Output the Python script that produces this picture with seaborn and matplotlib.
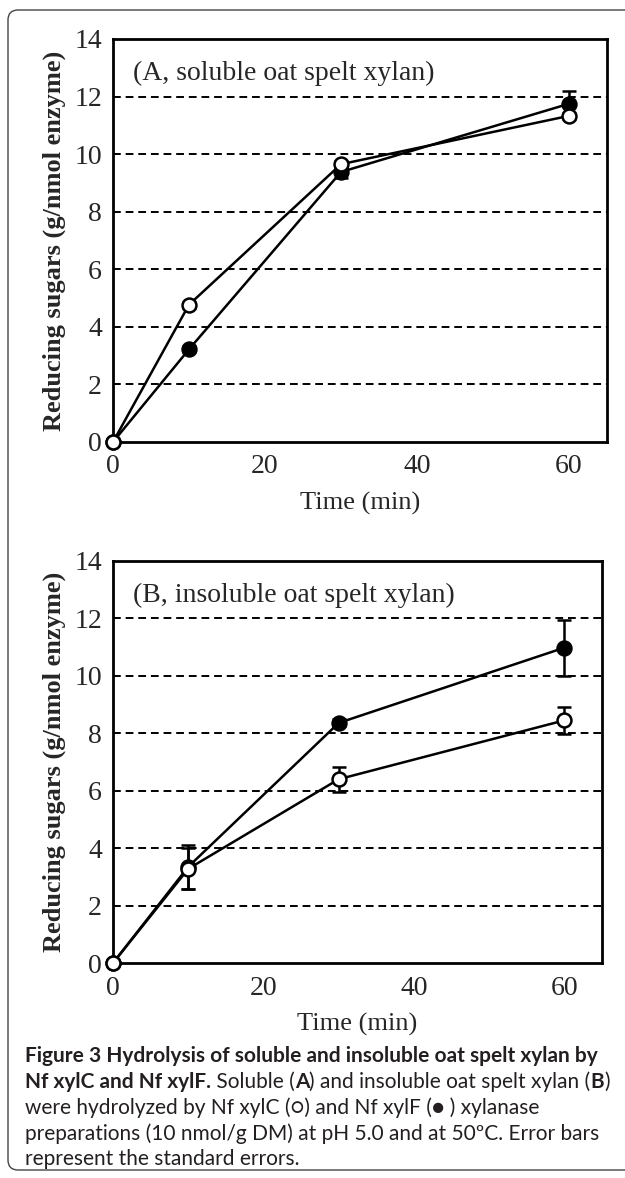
import pandas as pd
import matplotlib
matplotlib.use('Agg')
import matplotlib.pyplot as plt
import seaborn as sns
from matplotlib.patches import FancyBboxPatch
from matplotlib.transforms import IdentityTransform

# values
time = [0, 10, 30, 60]

a_xylF = [0, 3.22, 9.38, 11.75]
a_xylF_err = [0, 0.1, 0.22, 0.45]
a_xylC = [0, 4.77, 9.65, 11.33]
a_xylC_err = [0, 0.1, 0.1, 0.1]

b_xylF = [0, 3.35, 8.36, 10.98]
b_xylF_err = [0, 0.77, 0.12, 0.98]
b_xylC = [0, 3.28, 6.40, 8.45]
b_xylC_err = [0, 0.72, 0.43, 0.47]

panel_titles = ['(A, soluble oat spelt xylan)', '(B, insoluble oat spelt xylan)']
y_ticks = [0, 2, 4, 6, 8, 10, 12, 14]
x_ticks = [0, 20, 40, 60]

sns.set_theme(style='white')
plt.rcParams['font.family'] = ['Liberation Serif', 'DejaVu Serif']
plt.rcParams['axes.linewidth'] = 2.0

fig = plt.figure(figsize=(6.25, 11.78), dpi=100)

panels = [
    ([0.1808, 0.6248, 0.7904, 0.3421], a_xylF, a_xylF_err, a_xylC, a_xylC_err),
    ([0.1808, 0.1825, 0.7824, 0.3413], b_xylF, b_xylF_err, b_xylC, b_xylC_err),
]

for (pos, f, f_err, c, c_err), title in zip(panels, panel_titles):
    ax = fig.add_axes(pos)
    df_f = pd.DataFrame({'Time': time, 'Sugar': f})
    df_c = pd.DataFrame({'Time': time, 'Sugar': c})

    for yv in y_ticks[1:-1]:
        ax.axhline(yv, color='black', lw=1.4, dashes=(4, 2.5), zorder=1)

    ax.errorbar(time, f, yerr=f_err, fmt='none', ecolor='black', elinewidth=1.8,
                capsize=5, capthick=1.8, zorder=2, clip_on=False)
    ax.errorbar(time, c, yerr=c_err, fmt='none', ecolor='black', elinewidth=1.8,
                capsize=5, capthick=1.8, zorder=2, clip_on=False)

    sns.lineplot(data=df_f, x='Time', y='Sugar', ax=ax, color='black', lw=1.8,
                 marker='o', markersize=10, markerfacecolor='black',
                 markeredgecolor='black', markeredgewidth=1.8, zorder=3, clip_on=False)
    sns.lineplot(data=df_c, x='Time', y='Sugar', ax=ax, color='black', lw=1.8,
                 marker='o', markersize=10, markerfacecolor='white',
                 markeredgecolor='black', markeredgewidth=1.8, zorder=4, clip_on=False)

    ax.set_xlim(0, 65)
    ax.set_ylim(0, 14)
    ax.set_xticks(x_ticks)
    ax.set_yticks(y_ticks)
    ax.tick_params(axis='x', direction='out', length=5, width=1.5, labelsize=20, pad=4)
    ax.tick_params(axis='y', direction='inout', length=12, width=1.5, labelsize=20, pad=2)
    for s in ax.spines.values():
        s.set_color('black')
        s.set_linewidth(2.0)
    ax.set_xlabel('Time (min)', fontsize=19, labelpad=9)
    ax.set_ylabel('Reducing sugars (g/nmol enzyme)', fontsize=19, fontweight='bold', labelpad=6)
    ax.text(0.04, 0.915, title, transform=ax.transAxes, fontsize=20, va='center', ha='left')

# caption
cap = fig.add_axes([0, 0, 1, 1])
cap.axis('off')
cap.set_zorder(-1)
cap_font = ['Lato', 'DejaVu Sans']
cap_size = 15
cap_color = '#231f20'

caption_lines = [
    [('Figure 3 Hydrolysis of soluble and insoluble oat spelt xylan by', 'bold')],
    [('Nf xylC and Nf xylF.', 'bold'), (' Soluble (', 'normal'), ('A', 'bold'),
     (') and insoluble oat spelt xylan (', 'normal'), ('B', 'bold'), (')', 'normal')],
    [('were hydrolyzed by Nf xylC (○) and Nf xylF (● ) xylanase', 'normal')],
    [('preparations (10 nmol/g DM) at pH 5.0 and at 50ºC. Error bars', 'normal')],
    [('represent the standard errors.', 'normal')],
]
line_y = [1066, 1092, 1118, 1144, 1169]

for pieces, y in zip(caption_lines, line_y):
    prev = None
    for txt, wt in pieces:
        if prev is None:
            prev = cap.text(25 / 625, 1 - y / 1178, txt, fontsize=cap_size, fontweight=wt,
                            family=cap_font, color=cap_color, ha='left', va='bottom',
                            transform=fig.transFigure)
        else:
            prev = cap.annotate(txt, xy=(1, 0), xycoords=prev, fontsize=cap_size,
                                fontweight=wt, family=cap_font, color=cap_color,
                                ha='left', va='bottom')

# rounded frame around the whole figure
frame = FancyBboxPatch((8, 8), 700, 1160, boxstyle='round,pad=0,rounding_size=10',
                       transform=IdentityTransform(), fill=False, edgecolor='#444444', lw=1.0)
fig.add_artist(frame)

fig.savefig('out.png', dpi=100)
